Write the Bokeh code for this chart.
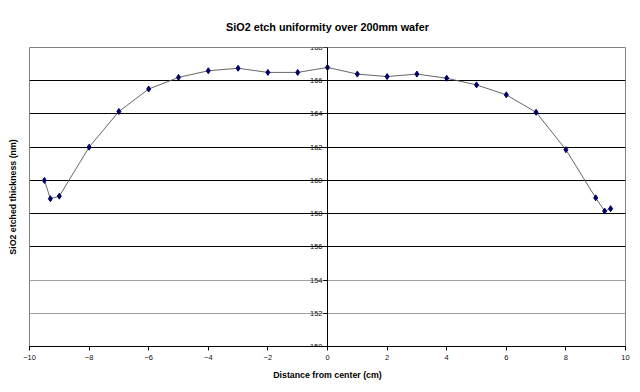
from bokeh.plotting import figure
from bokeh.models import Range1d, LinearAxis, FixedTicker, Grid, Title, Span
from bokeh.embed import file_html
from bokeh.resources import INLINE

# Data
distance_cm = [-9.5, -9.3, -9, -8, -7, -6, -5, -4, -3, -2, -1, 0,
               1, 2, 3, 4, 5, 6, 7, 8, 9, 9.3, 9.5]
thickness_nm = [160.0, 158.9, 159.05, 162.0, 164.15, 165.5, 166.2, 166.6, 166.75,
                166.5, 166.5, 166.8, 166.4, 166.25, 166.4, 166.15, 165.75, 165.15,
                164.1, 161.85, 158.95, 158.15, 158.3]
x_ticks = [-10, -8, -6, -4, -2, 0, 2, 4, 6, 8, 10]
y_ticks = [150, 152, 154, 156, 158, 160, 162, 164, 166, 168]
dark_grid = [156, 158, 160, 162, 164, 166]
light_grid = [152, 154]

FONT = "Liberation Sans"

p = figure(width=634, height=386, output_backend="svg", toolbar_location=None,
           x_range=Range1d(-10, 10), y_range=Range1d(150, 168),
           min_border_left=29, min_border_right=9, min_border_top=47,
           min_border_bottom=40)
p.title = None
p.add_layout(Title(text="SiO2 etch uniformity over 200mm wafer", align="center",
                   text_font=FONT, text_font_size="10.8px", text_font_style="bold",
                   text_color="black", standoff=30), "above")

p.background_fill_color = "white"
p.border_fill_color = "white"
p.outline_line_color = "#808080"
p.outline_line_width = 1

# x axis
xa = p.xaxis[0]
xa.ticker = FixedTicker(ticks=x_ticks)
xa.axis_label = "Distance from center (cm)"
xa.axis_label_text_font = FONT
xa.axis_label_text_font_size = "8.8px"
xa.axis_label_text_font_style = "bold"
xa.axis_label_text_color = "black"
xa.axis_label_standoff = 7
xa.major_label_text_font = FONT
xa.major_label_text_font_size = "7.5px"
xa.major_label_text_color = "#111111"
xa.major_label_standoff = 4
xa.axis_line_color = "black"
xa.major_tick_line_color = "black"
xa.major_tick_out = 4
xa.major_tick_in = 0
xa.minor_tick_line_color = None

# left axis: only the title
ya = p.yaxis[0]
ya.ticker = FixedTicker(ticks=[])
ya.axis_label = "SiO2 etched thickness (nm)"
ya.axis_label_text_font = FONT
ya.axis_label_text_font_size = "8.8px"
ya.axis_label_text_font_style = "bold"
ya.axis_label_text_color = "black"
ya.axis_label_standoff = 12
ya.axis_line_color = None
ya.major_tick_line_color = None
ya.minor_tick_line_color = None
ya.major_label_text_font_size = "0px"

# y axis crossing at x = 0
y0 = LinearAxis(fixed_location=0, ticker=FixedTicker(ticks=y_ticks))
y0.major_label_text_font = FONT
y0.major_label_text_font_size = "7.5px"
y0.major_label_text_color = "#111111"
y0.major_label_standoff = 1
y0.axis_line_color = "black"
y0.major_tick_line_color = "black"
y0.major_tick_out = 4
y0.major_tick_in = 0
y0.minor_tick_line_color = None
p.add_layout(y0, "left")

# grid lines
p.xgrid.visible = False
p.ygrid.visible = False
g1 = Grid(dimension=1, ticker=FixedTicker(ticks=dark_grid), grid_line_color="black",
          grid_line_width=1)
g2 = Grid(dimension=1, ticker=FixedTicker(ticks=light_grid), grid_line_color="#a0a0a0",
          grid_line_width=1)
p.add_layout(g1)
p.add_layout(g2)
p.add_layout(Span(location=0, dimension="height", line_color="black", line_width=1))

p.line(distance_cm, thickness_nm, line_color="#555555", line_width=0.9)
p.scatter(distance_cm, thickness_nm, marker="diamond", size=6,
          fill_color="#000066", line_color="#000066")

open("out.html", "w").write(file_html(p, INLINE))
